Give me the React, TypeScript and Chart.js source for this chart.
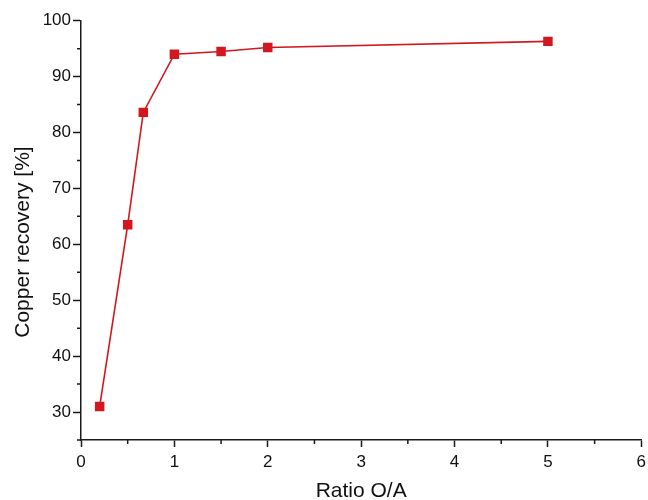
import React, { useEffect, useRef } from "react";
import { Chart, registerables } from "chart.js";

Chart.register(...registerables);

const ratioOA = [0.2, 0.5, 0.667, 1, 1.5, 2, 5];
const copperRecovery = [31.0, 63.5, 83.6, 94.0, 94.5, 95.2, 96.3];
const xMajorStep = 1;
const xMinorStep = 0.5;
const yMajorStep = 10;
const yMinorStep = 5;

const FONT = "'Liberation Sans', Arial, Helvetica, sans-serif";
const AXIS = "#1a1a1a";
const RED = "#d2171f";

const minorTicks = {
  id: "minorTicks",
  afterDraw(chart: any) {
    const ctx = chart.ctx;
    const xs = chart.scales.x;
    const ys = chart.scales.y;
    ctx.save();
    ctx.strokeStyle = AXIS;
    ctx.lineWidth = 1.5;
    ctx.beginPath();
    for (let v = xs.min; v <= xs.max + 1e-9; v += xMinorStep) {
      if (Math.abs(v / xMajorStep - Math.round(v / xMajorStep)) < 1e-6) continue;
      const px = xs.getPixelForValue(v);
      ctx.moveTo(px, xs.top);
      ctx.lineTo(px, xs.top + 4);
    }
    for (let v = ys.min; v <= ys.max + 1e-9; v += yMinorStep) {
      if (Math.abs(v / yMajorStep - Math.round(v / yMajorStep)) < 1e-6) continue;
      const py = ys.getPixelForValue(v);
      ctx.moveTo(ys.right, py);
      ctx.lineTo(ys.right - 4, py);
    }
    ctx.stroke();
    ctx.restore();
  },
};

export default function App() {
  const ref = useRef<HTMLCanvasElement>(null);
  useEffect(() => {
    if (!ref.current) return;
    const chart = new Chart(ref.current, {
      type: "scatter",
      data: {
        datasets: [
          {
            data: ratioOA.map((x, i) => ({ x, y: copperRecovery[i] })),
            showLine: true,
            borderColor: RED,
            backgroundColor: RED,
            borderWidth: 1.6,
            pointStyle: "rect",
            pointRadius: 6.7,
            pointBorderWidth: 0,
            pointBackgroundColor: RED,
          },
        ],
      },
      options: {
        responsive: false,
        animation: false,
        layout: { padding: { top: 20.7, right: 0, left: 0, bottom: 0 } },
        plugins: { legend: { display: false }, tooltip: { enabled: false } },
        scales: {
          x: {
            type: "linear",
            min: 0,
            max: 6,
            afterFit: (s: any) => {
              s.height = 60;
              s.paddingRight = 6;
            },
            border: { display: true, color: AXIS, width: 1.5 },
            grid: {
              drawOnChartArea: false,
              tickLength: 7,
              tickWidth: 1.5,
              tickColor: (c: any) =>
                c.tick && Math.abs(c.tick.value - Math.round(c.tick.value)) < 1e-6 ? AXIS : "transparent",
            },
            ticks: {
              stepSize: xMinorStep,
              color: "#111",
              font: { family: FONT, size: 17 },
              padding: 5,
              maxRotation: 0,
              autoSkip: false,
              callback: (v: any) => (Math.abs(v - Math.round(v)) < 1e-6 ? String(Math.round(v)) : ""),
            },
            title: {
              display: true,
              text: "Ratio O/A",
              color: "#111",
              font: { family: FONT, size: 21, lineHeight: 1 },
              padding: { top: 0, bottom: -2 },
            },
          },
          y: {
            type: "linear",
            min: 25,
            max: 100,
            afterFit: (s: any) => {
              s.width = 81;
            },
            border: { display: true, color: AXIS, width: 1.5 },
            grid: {
              drawOnChartArea: false,
              tickLength: 8,
              tickWidth: 1.5,
              tickColor: (c: any) =>
                c.tick && c.tick.value % yMajorStep === 0 ? AXIS : "transparent",
            },
            ticks: {
              stepSize: yMinorStep,
              color: "#111",
              font: { family: FONT, size: 17 },
              padding: 2,
              autoSkip: false,
              callback: (v: any) => (v % yMajorStep === 0 ? String(v) : ""),
            },
            title: {
              display: true,
              text: "Copper recovery [%]    ",
              color: "#111",
              font: { family: FONT, size: 21, lineHeight: 1 },
              padding: { top: 13, bottom: 0 },
            },
          },
        },
      },
      plugins: [minorTicks],
    });
    return () => chart.destroy();
  }, []);
  return (
    <div style={{ position: "absolute", left: 0, top: 0, width: 648, height: 500, background: "#fff" }}>
      <canvas ref={ref} width={648} height={500} />
    </div>
  );
}
